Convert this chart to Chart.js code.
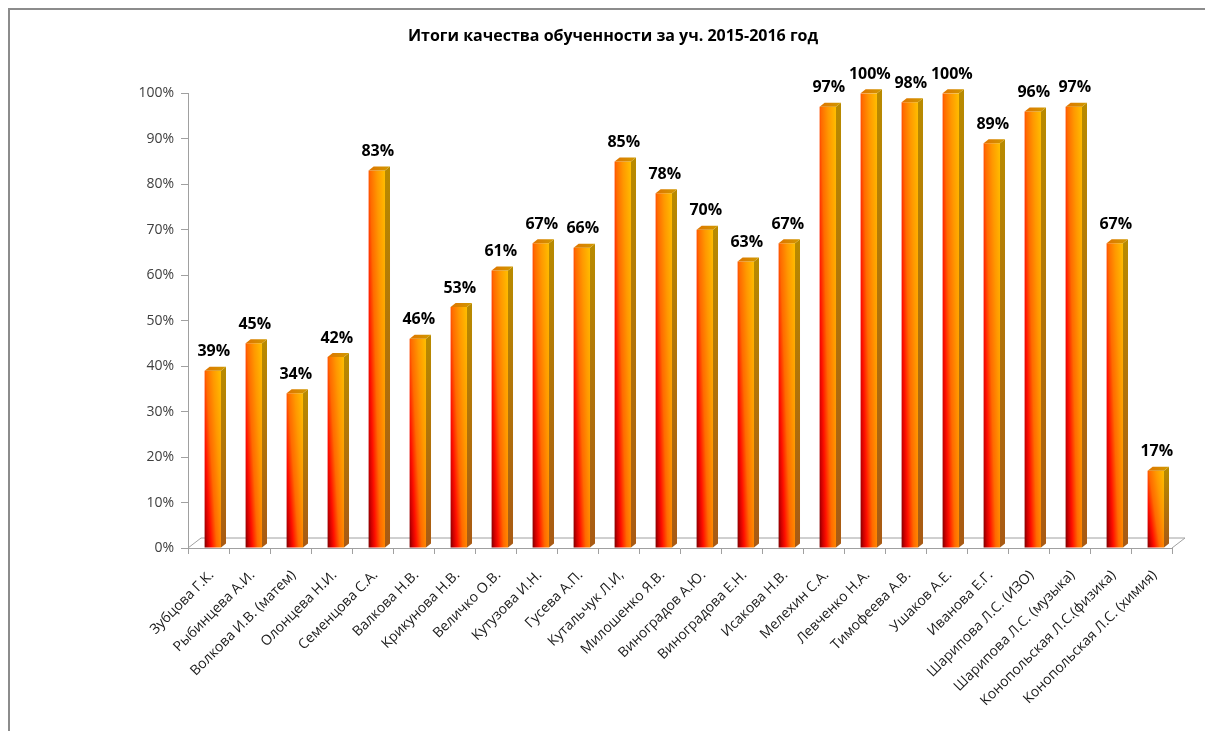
<!DOCTYPE html>
<html>
<head>
<meta charset="utf-8">
<title>Итоги качества обученности</title>
<script src="https://cdn.jsdelivr.net/npm/chart.js@4.4.1/dist/chart.umd.min.js"></script>
<style>
    html, body { margin: 0; padding: 0; background: #fff; }
    #wrap { position: relative; width: 1205px; height: 731px; }
</style>
</head>
<body>
<div id="wrap"><canvas id="chart"></canvas></div>
<script>
// teachers on the x axis
var teachers = [
    'Зубцова Г.К.', 'Рыбинцева А.И.', 'Волкова И.В. (матем)', 'Олонцева Н.И.',
    'Семенцова С.А.', 'Валкова Н.В.', 'Крикунова Н.В.', 'Величко О.В.',
    'Кутузова И.Н.', 'Гусева А.П.', 'Кутальчук Л.И,', 'Милошенко Я.В.',
    'Виноградов А.Ю.', 'Виноградова Е.Н.', 'Исакова Н.В.', 'Мелехин С.А.',
    'Левченко Н.А.', 'Тимофеева А.В.', 'Ушаков А.Е.', 'Иванова Е.Г.',
    'Шарипова Л.С. (ИЗО)', 'Шарипова Л.С. (музыка)', 'Конопольская Л.С.(физика)',
    'Конопольская Л.С. (химия)'
];
// quality of learning, percent
var quality = [39, 45, 34, 42, 83, 46, 53, 61, 67, 66, 85, 78, 70, 63, 67, 97, 100, 98, 100, 89, 96, 97, 67, 17];
// y axis tick values
var yTicks = [0, 10, 20, 30, 40, 50, 60, 70, 80, 90, 100];

var title = 'Итоги качества обученности за уч. 2015-2016 год';
var axisGray = '#a0a0a0';
var font = "'Open Sans', 'DejaVu Sans', sans-serif";

// share of a category taken by a bar, and the 3d depth of bars / floor
var barShare = 0.4;
var barDepth = { x: 5, y: 4 };
var floorDepth = { x: 13, y: 10 };
// bars sit a little right of the category centre (3d look)
var barShift = 0.105;

// diagonal gradient for the front face of a bar
function frontFill(c) {
    var chart = c.chart;
    if (!chart.chartArea || !chart.scales.xb) return '#ff8000';
    var xs = chart.scales.xb, ys = chart.scales.y;
    var cx = xs.getPixelForValue(c.dataIndex);
    var w = (xs.getPixelForValue(1) - xs.getPixelForValue(0)) * barShare;
    var x0 = cx - w / 2;
    var yb = ys.getPixelForValue(0);
    var yt = ys.getPixelForValue(quality[c.dataIndex]);
    var h = Math.max(yb - yt, 1);
    var a = 0.6 / w, b = 0.4 / h;
    var n = a * a + b * b;
    var g = chart.ctx.createLinearGradient(x0, yb, x0 + a / n, yb - b / n);
    g.addColorStop(0, '#7a0000');
    g.addColorStop(0.12, '#cc0000');
    g.addColorStop(0.25, '#ff1000');
    g.addColorStop(0.45, '#ff6a00');
    g.addColorStop(0.7, '#ff9800');
    g.addColorStop(1, '#ffbe00');
    return g;
}

// frame, floor, bar sides / caps and value labels
var bars3d = {
    id: 'bars3d',
    beforeDraw: function (chart) {
        var ctx = chart.ctx;
        ctx.save();
        ctx.strokeStyle = '#8c8c8c';
        ctx.lineWidth = 2;
        ctx.beginPath();
        ctx.moveTo(9, chart.height);
        ctx.lineTo(9, 9);
        ctx.lineTo(chart.width, 9);
        ctx.stroke();
        ctx.restore();
    },
    beforeDatasetsDraw: function (chart) {
        var ctx = chart.ctx, area = chart.chartArea;
        var y0 = chart.scales.y.getPixelForValue(0);
        ctx.save();
        ctx.strokeStyle = axisGray;
        ctx.lineWidth = 1;
        ctx.beginPath();
        ctx.moveTo(area.left, y0);
        ctx.lineTo(area.left + floorDepth.x, y0 - floorDepth.y);
        ctx.lineTo(area.right + floorDepth.x, y0 - floorDepth.y);
        ctx.lineTo(area.right, y0);
        ctx.stroke();
        ctx.restore();
    },
    afterDatasetsDraw: function (chart) {
        var ctx = chart.ctx;
        var meta = chart.getDatasetMeta(0);
        ctx.save();
        meta.data.forEach(function (el, i) {
            var p = el.getProps(['x', 'y', 'base', 'width'], true);
            var L = p.x - p.width / 2, R = p.x + p.width / 2;
            var T = p.y, B = p.base;
            var dx = barDepth.x, dy = barDepth.y;

            // right side
            var sg = ctx.createLinearGradient(0, T, 0, B);
            sg.addColorStop(0, '#b88a00');
            sg.addColorStop(1, '#a85a14');
            ctx.fillStyle = sg;
            ctx.beginPath();
            ctx.moveTo(R, T);
            ctx.lineTo(R + dx, T - dy);
            ctx.lineTo(R + dx, B - dy);
            ctx.lineTo(R, B);
            ctx.closePath();
            ctx.fill();

            // top cap
            var tg = ctx.createLinearGradient(L, 0, R + dx, 0);
            tg.addColorStop(0, '#e07400');
            tg.addColorStop(1, '#d09a00');
            ctx.fillStyle = tg;
            ctx.beginPath();
            ctx.moveTo(L, T);
            ctx.lineTo(L + dx, T - dy);
            ctx.lineTo(R + dx, T - dy);
            ctx.lineTo(R, T);
            ctx.closePath();
            ctx.fill();

            // value label
            ctx.fillStyle = '#000';
            ctx.font = "bold 16px " + font;
            ctx.textAlign = 'center';
            ctx.textBaseline = 'middle';
            ctx.fillText(quality[i] + '%', p.x + 1, T - 19);
        });
        ctx.restore();
    }
};

var chart = new Chart(document.getElementById('chart'), {
    type: 'bar',
    data: {
        labels: teachers,
        datasets: [{
            data: quality.map(function (v, i) { return { x: i, y: v }; }),
            xAxisID: 'xb',
            backgroundColor: frontFill,
            borderWidth: 0,
            categoryPercentage: 1,
            barPercentage: barShare
        }]
    },
    options: {
        responsive: true,
        maintainAspectRatio: false,
        animation: false,
        layout: { padding: { left: 54, right: 33, top: 0, bottom: 0 } },
        plugins: {
            legend: { display: false },
            tooltip: { enabled: false },
            title: {
                display: true,
                text: title,
                color: '#000',
                font: { family: font, size: 16, weight: 'bold' },
                padding: { top: 27, bottom: 47 }
            }
        },
        scales: {
            x: {
                type: 'category',
                offset: true,
                afterFit: function (s) { s.height = 183; },
                grid: { offset: true, drawOnChartArea: false, tickLength: 6, color: axisGray },
                border: { color: axisGray },
                ticks: {
                    autoSkip: false,
                    maxRotation: 45,
                    minRotation: 45,
                    padding: 13,
                    labelOffset: 3,
                    color: '#1a1a1a',
                    font: { family: font, size: 14 }
                }
            },
            xb: {
                type: 'linear',
                axis: 'x',
                display: false,
                offset: false,
                min: -0.5 - barShift,
                max: teachers.length - 0.5 - barShift
            },
            y: {
                min: yTicks[0],
                max: yTicks[yTicks.length - 1],
                afterFit: function (s) { s.width = 134; },
                afterBuildTicks: function (s) {
                    s.ticks = yTicks.map(function (v) { return { value: v }; });
                },
                grid: { drawOnChartArea: false, tickLength: 7, color: axisGray },
                border: { color: axisGray },
                ticks: {
                    padding: 7,
                    color: '#404040',
                    font: { family: font, size: 14 },
                    callback: function (v) { return v + '%'; }
                }
            }
        }
    },
    plugins: [bars3d]
});
</script>
</body>
</html>
